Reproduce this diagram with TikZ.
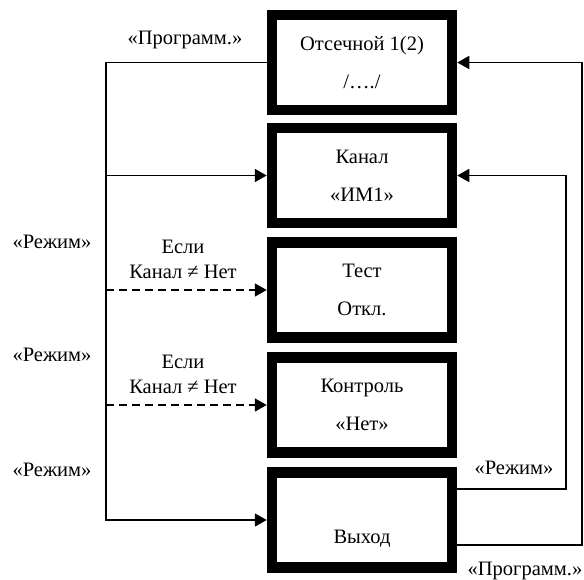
\documentclass[tikz,border=0pt]{standalone}
\usepackage{fontspec}
\setmainfont{Liberation Serif}
\usetikzlibrary{arrows.meta}
\tikzset{
  blk/.style={draw, line width=10.5pt, minimum width=180pt, minimum height=95pt,
    align=center, inner sep=0pt, font=\fontsize{20.5}{38}\selectfont},
  lbl/.style={inner sep=0pt, align=center, font=\fontsize{20.5}{25}\selectfont},
  conn/.style={line width=1.7pt},
  arr/.style={conn, -{Triangle[length=12pt,width=13pt]}},
  dsh/.style={arr, dash pattern=on 8pt off 5pt}
}
\begin{document}
\begin{tikzpicture}[x=1pt,y=-1pt]
\useasboundingbox (0,0) rectangle (584,579);
% boxes
\node[blk] (b1) at (362,62.5) {Отсечной 1(2)\\/…./};
\node[blk] (b2) at (362,175.5) {Канал\\«ИМ1»};
\node[blk] (b3) at (362,290) {Тест\\Откл.};
\node[blk] (b4) at (362,405) {Контроль\\«Нет»};
\node[blk] (b5) at (362,520) {\vphantom{В}\\Выход};
% left bus
\coordinate (L1) at (106,62.5);
\coordinate (L5) at (106,520);
\draw[arr] (b1.west) -- (L1) -- (L5) -- (b5.west);
\draw[arr] (L1 |- b2.west) -- (b2.west);
\draw[dsh] (L1 |- b3.west) -- (b3.west);
\draw[dsh] (L1 |- b4.west) -- (b4.west);
% right feedback
\coordinate (M5) at ([yshift=31pt]b5.east);
\coordinate (P5) at ([yshift=-25pt]b5.east);
\coordinate (cM) at (566,489);
\coordinate (cP) at (582,545);
\draw[arr] (M5) -- (cM) -- (cM |- b2.east) -- (b2.east);
\draw[arr] (P5) -- (cP) -- (cP |- b1.east) -- (b1.east);
% labels
\node[lbl] (t1) at (185,40) {«Программ.»};
\node[lbl] (t2) at (52,242) {«Режим»};
\node[lbl] (t3) at (52,355) {«Режим»};
\node[lbl] (t4) at (52,470) {«Режим»};
\node[lbl] (t5) at (183,259.5) {Если\\Канал ≠ Нет};
\node[lbl] (t6) at (183,374.5) {Если\\Канал ≠ Нет};
\node[lbl] (t7) at (514,468) {«Режим»};
\node[lbl] (t8) at (525,571) {«Программ.»};
\end{tikzpicture}
\end{document}
